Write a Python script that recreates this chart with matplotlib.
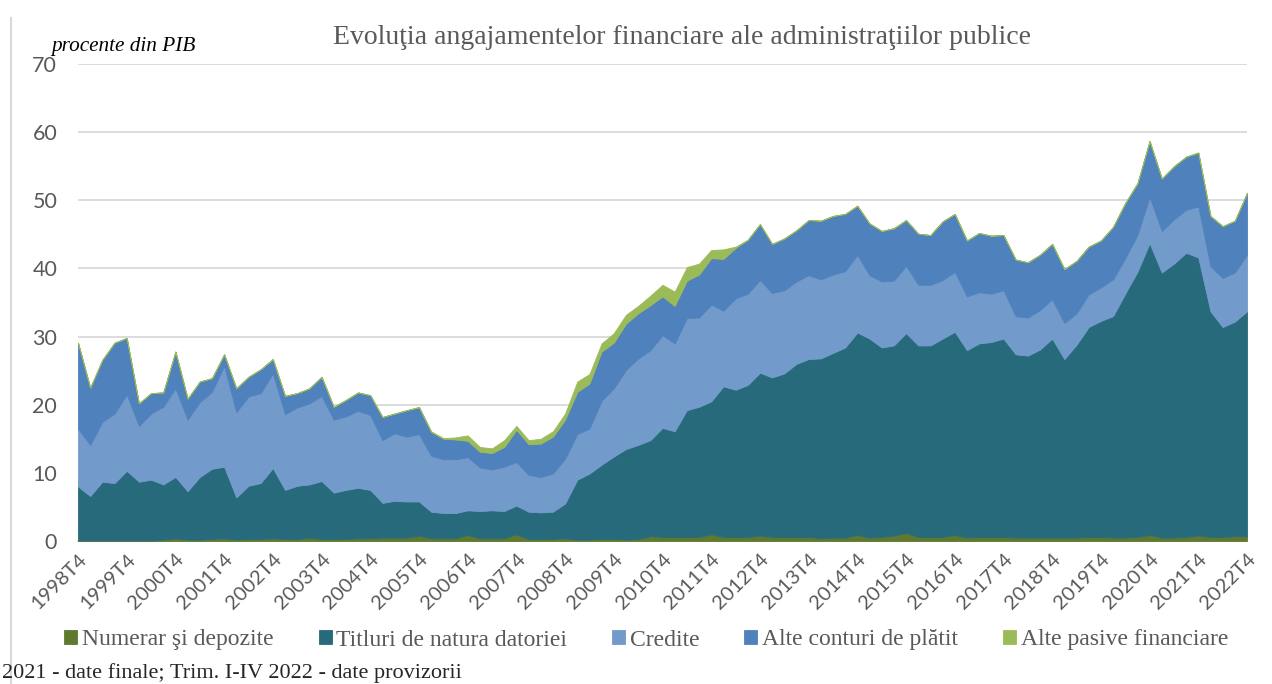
import numpy as np
import matplotlib
matplotlib.use('Agg')
from matplotlib import pyplot as plt
from matplotlib.lines import Line2D

# quarters 1998T4 .. 2022T4
years = list(range(1998, 2023))
tick_labels = ['%dT4' % y for y in years]

# procente din PIB
numerar = [0.1, 0.1, 0.1, 0.1, 0.1, 0.1, 0.1, 0.2, 0.4, 0.2,
           0.2, 0.3, 0.4, 0.2, 0.3, 0.3, 0.4, 0.3, 0.3, 0.5,
           0.3, 0.3, 0.3, 0.4, 0.4, 0.5, 0.5, 0.5, 0.8, 0.4,
           0.4, 0.4, 0.9, 0.4, 0.4, 0.4, 1.0, 0.3, 0.3, 0.3,
           0.4, 0.2, 0.2, 0.3, 0.3, 0.2, 0.3, 0.7, 0.6, 0.6,
           0.6, 0.6, 1.0, 0.6, 0.6, 0.6, 0.8, 0.6, 0.6, 0.6,
           0.6, 0.4, 0.5, 0.5, 0.9, 0.5, 0.6, 0.8, 1.2, 0.6,
           0.6, 0.6, 0.9, 0.5, 0.6, 0.6, 0.6, 0.5, 0.5, 0.5,
           0.5, 0.5, 0.5, 0.6, 0.6, 0.5, 0.5, 0.6, 0.9, 0.5,
           0.5, 0.6, 0.8, 0.6, 0.6, 0.7, 0.7]
titluri = [7.9, 6.5, 8.6, 8.4, 10.2, 8.6, 8.9, 8.1, 9.0, 7.1,
           9.2, 10.3, 10.5, 6.2, 7.8, 8.2, 10.3, 7.2, 7.8, 7.8,
           8.5, 6.8, 7.2, 7.4, 7.1, 5.1, 5.4, 5.3, 5.0, 3.9,
           3.7, 3.7, 3.6, 4.0, 4.1, 4.0, 4.2, 4.0, 3.9, 4.0,
           5.1, 8.8, 9.7, 10.9, 12.1, 13.3, 13.8, 14.1, 16.0, 15.5,
           18.6, 19.1, 19.5, 22.1, 21.6, 22.3, 23.9, 23.4, 24.0, 25.4,
           26.1, 26.4, 27.1, 27.9, 29.7, 29.2, 27.8, 27.9, 29.3, 28.1,
           28.1, 29.1, 29.8, 27.5, 28.4, 28.6, 29.1, 26.9, 26.7, 27.6,
           29.2, 26.2, 28.3, 30.8, 31.7, 32.5, 35.8, 38.9, 42.8, 38.9,
           40.2, 41.7, 40.8, 33.1, 30.8, 31.5, 33.0]
credite = [8.5, 7.5, 8.8, 10.2, 11.2, 8.2, 9.7, 11.4, 13.0, 10.5,
           11.0, 11.3, 14.8, 12.5, 13.1, 13.2, 13.9, 11.1, 11.5, 11.9,
           12.5, 10.7, 10.8, 11.3, 11.0, 9.2, 9.9, 9.5, 9.9, 8.2,
           7.9, 7.9, 7.8, 6.4, 6.0, 6.5, 6.4, 5.4, 5.2, 5.6,
           6.6, 6.7, 6.6, 9.4, 10.0, 11.6, 12.7, 13.2, 13.6, 12.9,
           13.5, 13.1, 14.2, 11.1, 13.4, 13.4, 13.6, 12.4, 12.2, 12.1,
           12.3, 11.6, 11.5, 11.2, 11.4, 9.3, 9.7, 9.5, 9.9, 8.9,
           8.9, 8.6, 8.8, 7.9, 7.5, 7.1, 7.1, 5.6, 5.6, 5.8,
           5.8, 5.3, 4.6, 4.8, 4.9, 5.4, 5.2, 5.4, 6.8, 6.1,
           6.5, 6.3, 7.5, 6.6, 7.2, 7.2, 8.3]
alte_conturi = [12.6, 8.4, 9.1, 10.4, 8.3, 3.3, 3.0, 2.1, 5.4, 3.1,
                3.0, 2.0, 1.7, 3.5, 2.9, 3.5, 2.1, 2.7, 2.1, 2.2,
                2.8, 1.9, 2.4, 2.7, 2.9, 3.4, 2.9, 3.9, 3.9, 3.5,
                3.0, 2.9, 2.4, 2.3, 2.4, 2.9, 4.7, 4.5, 4.9, 5.4,
                5.7, 6.2, 6.6, 7.2, 6.7, 6.8, 6.6, 6.6, 5.7, 5.5,
                5.5, 6.3, 6.8, 7.6, 7.4, 7.9, 8.2, 7.2, 7.6, 7.5,
                8.1, 8.6, 8.6, 8.4, 7.2, 7.6, 7.4, 7.7, 6.7, 7.5,
                7.3, 8.6, 8.5, 8.2, 8.7, 8.5, 8.1, 8.3, 8.1, 8.1,
                8.1, 7.9, 7.7, 7.0, 6.9, 7.7, 8.1, 7.6, 8.2, 7.7,
                7.8, 7.8, 7.9, 7.4, 7.6, 7.6, 9.1]
alte_pasive = [0.0] * 28 + [
               0.1, 0.1, 0.1, 0.3, 0.8, 0.7, 0.7, 1.0, 0.6, 0.6,
               0.7, 0.8, 0.9, 1.5, 1.4, 1.2, 1.4, 1.3, 1.1, 1.4,
               1.7, 2.1, 2.0, 1.6, 1.2, 1.4, 0.2] + [0.0] * 42

series_names = ['Numerar şi depozite', 'Titluri de natura datoriei', 'Credite',
                'Alte conturi de plătit', 'Alte pasive financiare']
colors = ['#5f7a2f', '#276a7b', '#729aca', '#4f81bd', '#9bbb59']

x = np.arange(len(numerar))

fig = plt.figure(figsize=(12.72, 6.84), dpi=100)
ax = fig.add_axes([78/1272, 1-541/684, (1247-78)/1272, (541-64)/684])

polys = ax.stackplot(x, numerar, titluri, credite, alte_conturi, alte_pasive,
                     colors=colors, labels=series_names, zorder=3)
for p, c in zip(polys, colors):
    p.set_edgecolor(c)
    p.set_linewidth(0.6)

ax.set_xlim(0, len(x) - 1)
ax.set_ylim(0, 70)
ax.set_yticks(range(0, 71, 10))
ax.yaxis.grid(True, color='#d9d9d9', linewidth=1.3, zorder=0)
ax.set_axisbelow(True)
for s in ['top', 'right', 'left']:
    ax.spines[s].set_visible(False)
ax.spines['bottom'].set_color('#d9d9d9')
ax.spines['bottom'].set_linewidth(1.3)
ax.tick_params(axis='both', length=0, colors='#595959')
ax.tick_params(axis='y', pad=15)
for t in ax.get_yticklabels():
    t.set_fontfamily('Lato')
    t.set_fontsize(15.5)

ax.set_xticks(x[::4])
ax.set_xticklabels(tick_labels, rotation=45, ha='right', rotation_mode='anchor',
                   fontfamily='Lato', fontsize=14.5, color='#595959')
ax.tick_params(axis='x', pad=7)

fig.text(0.536, 1-38/684, 'Evoluţia angajamentelor financiare ale administraţiilor publice',
         ha='center', va='center', fontfamily='Liberation Serif', fontsize=20, color='#595959')
fig.text(51/1272, 1-46/684, 'procente din PIB', ha='left', va='center',
         fontfamily='Liberation Serif', fontstyle='italic', fontsize=15.3, color='black')
fig.text(2/1272, 1-673/684, '2021 - date finale; Trim. I-IV 2022 - date provizorii',
         ha='left', va='center', fontfamily='Liberation Serif', fontsize=16, color='#262626')

leg = fig.legend(handles=polys, labels=series_names, loc='center', ncol=5,
                 bbox_to_anchor=(0.508, 1-640/684), frameon=False,
                 prop={'family': 'Liberation Serif', 'size': 17},
                 handlelength=0.55, handleheight=0.55, handletextpad=0.2,
                 columnspacing=1.9, labelcolor='#595959')

fig.add_artist(Line2D([11/1272, 11/1272], [0, 1-18/684], color='#d9d9d9',
                      linewidth=1.5, transform=fig.transFigure))

fig.savefig('out.png', dpi=100)
